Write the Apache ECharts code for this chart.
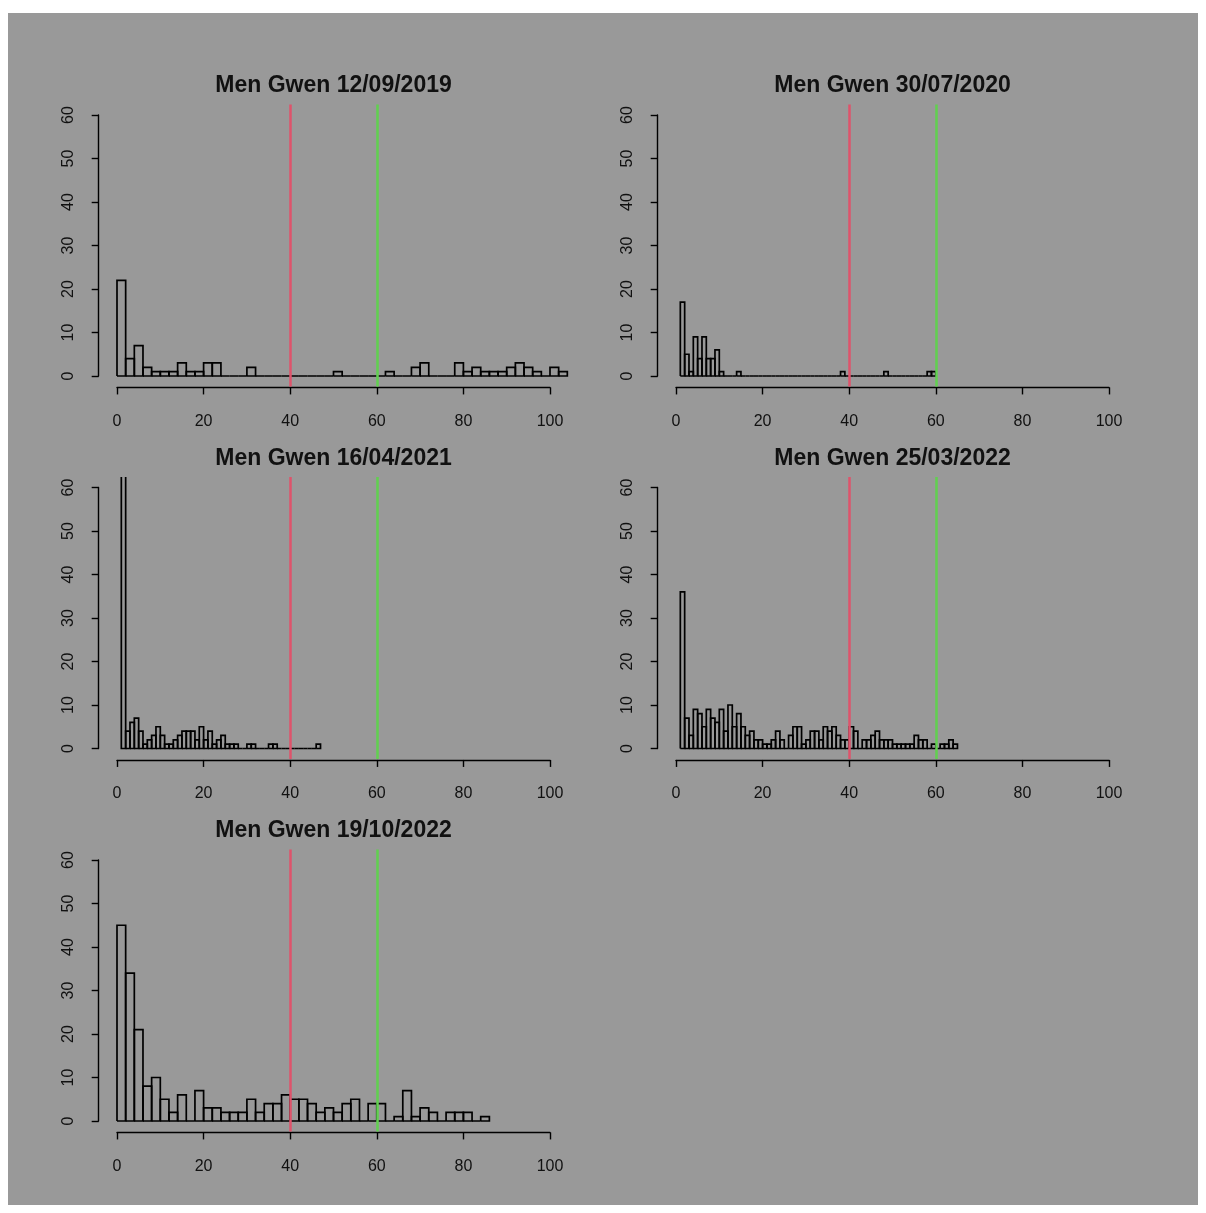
<!DOCTYPE html>
<html><head><meta charset="utf-8">
<script src="https://cdn.jsdelivr.net/npm/echarts@6/dist/echarts.min.js"></script>
<style>
html,body{margin:0;padding:0;background:#fff;width:1206px;height:1213px;overflow:hidden}
#c{position:absolute;left:8px;top:13px;width:1190px;height:1192px;}
</style>
</head><body><div id="c"></div>
<script>
// ---------------- data ----------------
const titles = ["Men Gwen 12/09/2019", "Men Gwen 30/07/2020", "Men Gwen 16/04/2021", "Men Gwen 25/03/2022", "Men Gwen 19/10/2022"];
const binStart = [0, 1, 1, 1, 0];
const binWidth = [2, 1, 1, 1, 2];
const counts2019 = [22, 4, 7, 2, 1, 1, 1, 3, 1, 1, 3, 3, 0, 0, 0, 2, 0, 0, 0, 0, 0, 0, 0, 0, 0, 1,
  0, 0, 0, 0, 0, 1, 0, 0, 2, 3, 0, 0, 0, 3, 1, 2, 1, 1, 1, 2, 3, 2, 1, 0, 2, 1];
const counts2020 = [17, 5, 1, 9, 4, 9, 4, 4, 6, 1, 0, 0, 0, 1, 0, 0, 0, 0, 0, 0, 0, 0, 0, 0, 0, 0, 0, 0, 0, 0,
  0, 0, 0, 0, 0, 0, 0, 1, 0, 0, 0, 0, 0, 0, 0, 0, 0, 1, 0, 0, 0, 0, 0, 0, 0, 0, 0, 1, 1];
const counts2021 = [90, 4, 6, 7, 4, 1, 2, 3, 5, 3, 1, 1, 2, 3, 4, 4, 4, 2, 5, 2, 4, 1, 2, 3, 1, 1,
  1, 0, 0, 1, 1, 0, 0, 0, 1, 1, 0, 0, 0, 0, 0, 0, 0, 0, 0, 1];
const counts2022a = [36, 7, 3, 9, 8, 5, 9, 7, 6, 9, 4, 10, 5, 8, 5, 3, 4, 2, 2, 1, 1, 2, 4, 2, 0, 3, 5, 5,
  1, 2, 4, 4, 2, 5, 4, 5, 3, 2, 2, 5, 4, 0, 2, 2, 3, 4, 2, 2, 2, 1, 1, 1, 1, 1, 3, 2, 2, 0, 1, 0, 1, 1, 2, 1];
const counts2022b = [45, 34, 21, 8, 10, 5, 2, 6, 0, 7, 3, 3, 2, 2, 2, 5, 2, 4, 4, 6, 5, 5, 4, 2, 3, 2,
  4, 5, 0, 4, 4, 0, 1, 7, 1, 3, 2, 0, 2, 2, 2, 0, 1];
const allCounts = [counts2019, counts2020, counts2021, counts2022a, counts2022b];
const redLine = 40;
const greenLine = 60;
const xTickStep = 20;
const yTickStep = 10;

// ---------------- layout ----------------
const OX = 8, OY = 13;
const colX0 = [117, 676];
const rowY0 = [376, 748.5, 1121];
const ux = 4.33, uy = 4.35;
const font = "'Liberation Sans', Arial, sans-serif";

const grids = [], xAxes = [], yAxes = [], series = [], graphics = [];

function renderHist(params, api) {
  const x0 = api.value(0), x1 = api.value(1), c = api.value(2);
  const p0 = api.coord([x0, 0]);
  const p1 = api.coord([x1, c]);
  const cs = params.coordSys;
  const left = Math.max(p0[0], cs.x);
  const right = Math.min(p1[0], cs.x + cs.width);
  if (right <= left) return;
  const bottom = p0[1];
  let top = p1[1];
  const clipped = top < cs.y;
  if (clipped) top = cs.y;
  const pts = clipped
    ? [[left, top], [left, bottom], [right, bottom], [right, top]]
    : [[left, bottom], [left, top], [right, top], [right, bottom], [left, bottom]];
  return { type: 'polyline', shape: { points: pts }, style: { stroke: '#000', fill: null, lineWidth: 1.7 } };
}

allCounts.forEach((counts, i) => {
  const col = i % 2, row = Math.floor(i / 2);
  const x0 = colX0[col], y0 = rowY0[row];
  grids.push({ left: x0 - 4 * ux - OX, top: y0 - 62.4 * uy - OY, width: 108 * ux, height: 64.8 * uy, containLabel: false });
  grids.push({ left: x0 - OX, top: y0 - 60 * uy - OY, width: 100 * ux, height: 60 * uy, containLabel: false });
  const gP = 2 * i, gA = 2 * i + 1;
  xAxes.push({ gridIndex: gP, type: 'value', min: -4, max: 104, show: false });
  yAxes.push({ gridIndex: gP, type: 'value', min: -2.4, max: 62.4, show: false });
  xAxes.push({
    gridIndex: gA, type: 'value', min: 0, max: 100, interval: xTickStep, position: 'bottom', offset: 2.4 * uy + 1,
    axisLine: { show: true, onZero: false, lineStyle: { color: '#000', width: 1.4 } },
    axisTick: { show: true, length: 7, lineStyle: { color: '#000', width: 1.4 } },
    axisLabel: { color: '#111', fontSize: 16, fontFamily: font, margin: 26 },
    splitLine: { show: false }
  });
  yAxes.push({
    gridIndex: gA, type: 'value', min: 0, max: 60, interval: yTickStep, position: 'left', offset: 4 * ux + 1,
    axisLine: { show: true, onZero: false, lineStyle: { color: '#000', width: 1.4 } },
    axisTick: { show: true, length: 7, lineStyle: { color: '#000', width: 1.4 } },
    axisLabel: { color: '#111', fontSize: 16, fontFamily: font, rotate: 90, margin: 22 },
    splitLine: { show: false }
  });
  const s0 = binStart[i], w = binWidth[i];
  series.push({
    type: 'custom', xAxisIndex: gP, yAxisIndex: gP,
    data: counts.map((c, k) => [s0 + k * w, s0 + (k + 1) * w, c]),
    renderItem: renderHist, silent: true, animation: false,
    markLine: {
      symbol: 'none', silent: true, animation: false, label: { show: false },
      data: [
        { xAxis: redLine, lineStyle: { color: '#DF536B', width: 2.5, type: 'solid' } },
        { xAxis: greenLine, lineStyle: { color: '#61D04F', width: 2.5, type: 'solid' } }
      ]
    }
  });
  graphics.push({
    type: 'text', x: x0 + 50 * ux - OX, y: y0 - 60 * uy - 29 - OY,
    style: { text: titles[i], font: 'bold 23px ' + font, fill: '#111', textAlign: 'center', textVerticalAlign: 'middle' }
  });
});

const chart = echarts.init(document.getElementById('c'), null, { renderer: 'canvas' });
chart.setOption({
  backgroundColor: '#999999',
  animation: false,
  grid: grids, xAxis: xAxes, yAxis: yAxes, series: series, graphic: graphics
});
</script>
</body></html>
